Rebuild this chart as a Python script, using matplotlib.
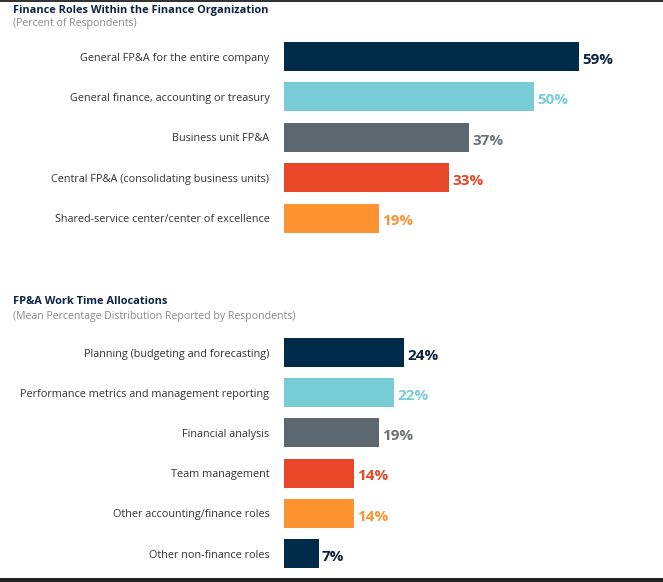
import matplotlib
matplotlib.use("Agg")
import matplotlib.pyplot as plt
from matplotlib.patches import Rectangle

# ---- data ----
roles_categories = [
    "General FP&A for the entire company",
    "General finance, accounting or treasury",
    "Business unit FP&A",
    "Central FP&A (consolidating business units)",
    "Shared-service center/center of excellence",
]
roles_values = [59, 50, 37, 33, 19]

time_categories = [
    "Planning (budgeting and forecasting)",
    "Performance metrics and management reporting",
    "Financial analysis",
    "Team management",
    "Other accounting/finance roles",
    "Other non-finance roles",
]
time_values = [24, 22, 19, 14, 14, 7]

roles_title = "Finance Roles Within the Finance Organization"
roles_subtitle = "(Percent of Respondents)"
time_title = "FP&A Work Time Allocations"
time_subtitle = "(Mean Percentage Distribution Reported by Respondents)"

NAVY = "#002B49"
TEAL = "#77CCD6"
GRAY = "#5C6770"
RED = "#E84628"
ORANGE = "#FC9330"
roles_colors = [NAVY, TEAL, GRAY, RED, ORANGE]
time_colors = [NAVY, TEAL, GRAY, RED, ORANGE, NAVY]
label_colors = {NAVY: "#0B2240", TEAL: "#77CCD6", GRAY: "#6B7279", RED: "#E84628", ORANGE: "#FC9330"}

W, H = 663, 582
fig = plt.figure(figsize=(W / 100, H / 100), dpi=100)
fig.patch.set_facecolor("white")

LABEL_FONT = "Open Sans"
VALUE_FONT = "Open Sans"
px_per_unit = 5.0
x0 = 284


def make_axes(top_px, bottom_px):
    ax = fig.add_axes([x0 / W, 1 - bottom_px / H, (W - x0) / W, (bottom_px - top_px) / H])
    ax.set_xlim(0, (W - x0) / px_per_unit)
    return ax


def draw(ax, cats, vals, colors):
    n = len(cats)
    ys = list(range(n))
    ax.barh(ys, vals, height=0.72, color=colors)
    ax.set_ylim(n - 0.5, -0.5)
    ax.set_yticks(ys)
    ax.set_yticklabels(cats, fontsize=7.8, color="#333333", family=LABEL_FONT)
    ax.tick_params(axis="y", length=0, pad=10.5)
    ax.set_xticks([])
    for s in ax.spines.values():
        s.set_visible(False)
    ax.patch.set_alpha(0)
    for y, v, c in zip(ys, vals, colors):
        ax.text(v + 0.6, y + 0.08, f"{v}%", va="center", ha="left", fontsize=11,
                fontweight="bold", color=label_colors[c], family=VALUE_FONT)


ax1 = make_axes(36.3, 238.3)
draw(ax1, roles_categories, roles_values, roles_colors)

ax2 = make_axes(332.4, 573.6)
draw(ax2, time_categories, time_values, time_colors)

# titles
fig.text(13 / W, 1 - 10 / H, roles_title, fontsize=7.9, fontweight="bold", color="#0B2240",
         va="center", ha="left", family="Open Sans")
fig.text(13 / W, 1 - 23.5 / H, roles_subtitle, fontsize=7.6, color="#8A8A8A",
         va="center", ha="left", family="Open Sans")
fig.text(13 / W, 1 - 301 / H, time_title, fontsize=7.9, fontweight="bold", color="#0B2240",
         va="center", ha="left", family="Open Sans")
fig.text(13 / W, 1 - 316 / H, time_subtitle, fontsize=7.6, color="#8A8A8A",
         va="center", ha="left", family="Open Sans")

# border strips
fig.patches.append(Rectangle((0, 1 - 2 / H), 1, 2 / H, transform=fig.transFigure,
                             facecolor="#333333", edgecolor="none"))
fig.patches.append(Rectangle((0, 0), 1, 4 / H, transform=fig.transFigure,
                             facecolor="#222222", edgecolor="none"))

fig.savefig("out.png", dpi=100, facecolor="white")
